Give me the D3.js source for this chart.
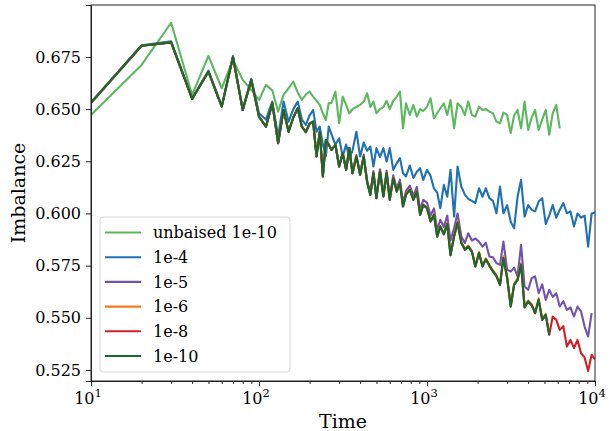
<!DOCTYPE html>
<html>
<head>
<meta charset="utf-8">
<script src="https://cdn.jsdelivr.net/npm/d3@7"></script>
<style>
  body { margin: 0; background: #fff; }
  svg text { font-family: "DejaVu Serif", serif; fill: #000; }
</style>
</head>
<body>
<div id="chart"></div>
<script>
// sample times (shared by all runs, shorter runs stop earlier)
var times = [
    10, 20, 30, 40, 50, 60, 70, 80, 90, 100,
    110, 120, 130, 140, 150, 160, 170, 180, 190, 200,
    210, 220, 230, 240, 250, 260, 270, 285, 300, 315,
    330, 345, 360, 380, 400, 420, 440, 460, 480, 500,
    525, 550, 575, 600, 630, 660, 690, 720, 750, 790,
    830, 870, 910, 950, 1000, 1050, 1100, 1150, 1200, 1260,
    1320, 1380, 1450, 1520, 1600, 1680, 1760, 1850, 1940, 2040,
    2140, 2240, 2350, 2470, 2590, 2720, 2850, 3000, 3150, 3300,
    3460, 3630, 3810, 4000, 4200, 4400, 4620, 4850, 5090, 5340,
    5600, 5880, 6170, 6480, 6800, 7140, 7500, 7870, 8260, 8670,
    9100, 9550, 10000
];

var unbiased10 = [
    0.6472, 0.6712, 0.6914, 0.6568, 0.6755, 0.6600, 0.6736, 0.6640, 0.6592, 0.6544,
    0.6616, 0.6590, 0.6488, 0.6568, 0.6600, 0.6632, 0.6580, 0.6544, 0.6570, 0.6584,
    0.6560, 0.6540, 0.6520, 0.6480, 0.6448, 0.6528, 0.6530, 0.6584, 0.6432, 0.6560,
    0.6520, 0.6480, 0.6500, 0.6510, 0.6520, 0.6536, 0.6576, 0.6510, 0.6536, 0.6480,
    0.6500, 0.6510, 0.6540, 0.6500, 0.6540, 0.6560, 0.6584, 0.6408, 0.6528, 0.6472,
    0.6520, 0.6464, 0.6500, 0.6490, 0.6512, 0.6552, 0.6456, 0.6480, 0.6504, 0.6528,
    0.6472, 0.6544, 0.6408, 0.6528, 0.6510, 0.6472, 0.6536, 0.6472, 0.6464, 0.6512,
    0.6496, 0.6500, 0.6488, 0.6480, 0.6440, 0.6432, 0.6483, 0.6472, 0.6385, 0.6470,
    0.6496, 0.6408, 0.6536, 0.6400, 0.6460, 0.6496, 0.6400, 0.6450, 0.6496, 0.6377,
    0.6480, 0.6520, 0.6408
];

var eps4 = [
    0.6532, 0.6806, 0.6825, 0.6551, 0.6684, 0.6515, 0.6755, 0.6500, 0.6645, 0.6480,
    0.6450, 0.6536, 0.6370, 0.6536, 0.6440, 0.6500, 0.6536, 0.6450, 0.6424, 0.6470,
    0.6496, 0.6392, 0.6416, 0.6330, 0.6273, 0.6416, 0.6380, 0.6329, 0.6360, 0.6273,
    0.6330, 0.6265, 0.6300, 0.6392, 0.6273, 0.6340, 0.6300, 0.6320, 0.6225, 0.6313,
    0.6270, 0.6313, 0.6249, 0.6313, 0.6209, 0.6240, 0.6265, 0.6193, 0.6177, 0.6230,
    0.6170, 0.6200, 0.6217, 0.6161, 0.6209, 0.6180, 0.6120, 0.6100, 0.6025, 0.6137,
    0.6080, 0.6209, 0.5985, 0.6225, 0.6129, 0.6090, 0.6070, 0.6060, 0.6050, 0.6121,
    0.6080, 0.6121, 0.6073, 0.6060, 0.6001, 0.6129, 0.6001, 0.6040, 0.5960, 0.5929,
    0.6080, 0.6161, 0.5985, 0.6040, 0.6017, 0.6010, 0.6057, 0.6073, 0.5950, 0.5990,
    0.6040, 0.5980, 0.6017, 0.6050, 0.6001, 0.6010, 0.5937, 0.6000, 0.5980, 0.5990,
    0.5841, 0.6000, 0.6005
];

var eps5 = [
    0.6530, 0.6804, 0.6820, 0.6549, 0.6680, 0.6512, 0.6750, 0.6496, 0.6640, 0.6464,
    0.6416, 0.6528, 0.6337, 0.6496, 0.6392, 0.6460, 0.6504, 0.6416, 0.6390, 0.6430,
    0.6440, 0.6273, 0.6392, 0.6177, 0.6352, 0.6330, 0.6305, 0.6329, 0.6225, 0.6289,
    0.6209, 0.6313, 0.6193, 0.6280, 0.6192, 0.6282, 0.6160, 0.6098, 0.6203, 0.6083,
    0.6212, 0.6092, 0.6205, 0.6078, 0.6183, 0.6120, 0.6162, 0.6050, 0.6108, 0.6133,
    0.6086, 0.6127, 0.6017, 0.6065, 0.6052, 0.5990, 0.6024, 0.5922, 0.5970, 0.5935,
    0.5990, 0.5870, 0.5930, 0.6000, 0.5891, 0.5858, 0.5905, 0.5870, 0.5880, 0.5865,
    0.5841, 0.5860, 0.5794, 0.5790, 0.5762, 0.5754, 0.5865, 0.5730, 0.5722, 0.5740,
    0.5698, 0.5850, 0.5650, 0.5634, 0.5690, 0.5698, 0.5618, 0.5660, 0.5586, 0.5634,
    0.5600, 0.5618, 0.5554, 0.5580, 0.5538, 0.5550, 0.5506, 0.5554, 0.5530, 0.5458,
    0.5410, 0.5522
];

var eps6 = [
    0.6530, 0.6804, 0.6820, 0.6549, 0.6680, 0.6512, 0.6750, 0.6496, 0.6640, 0.6464,
    0.6416, 0.6528, 0.6337, 0.6496, 0.6392, 0.6460, 0.6504, 0.6416, 0.6390, 0.6430,
    0.6440, 0.6273, 0.6392, 0.6177, 0.6352, 0.6330, 0.6305, 0.6329, 0.6225, 0.6289,
    0.6209, 0.6313, 0.6193, 0.6275, 0.6186, 0.6275, 0.6152, 0.6090, 0.6195, 0.6075,
    0.6204, 0.6083, 0.6196, 0.6067, 0.6172, 0.6107, 0.6148, 0.6035, 0.6093, 0.6117,
    0.6068, 0.6109, 0.5996, 0.6044, 0.6029, 0.5964, 0.5997, 0.5892, 0.5941, 0.5903,
    0.5955, 0.5803, 0.5894, 0.5962, 0.5864, 0.5830, 0.5846, 0.5821, 0.5750, 0.5815,
    0.5750, 0.5785, 0.5754, 0.5727, 0.5704, 0.5662, 0.5795, 0.5698, 0.5558, 0.5663,
    0.5688, 0.5762, 0.5555, 0.5583, 0.5565, 0.5527, 0.5594, 0.5494, 0.5519, 0.5421
];

var eps8 = [
    0.6530, 0.6804, 0.6820, 0.6549, 0.6680, 0.6512, 0.6750, 0.6496, 0.6640, 0.6464,
    0.6416, 0.6528, 0.6337, 0.6496, 0.6392, 0.6460, 0.6504, 0.6416, 0.6390, 0.6430,
    0.6440, 0.6273, 0.6392, 0.6177, 0.6352, 0.6330, 0.6305, 0.6329, 0.6225, 0.6289,
    0.6209, 0.6313, 0.6193, 0.6273, 0.6185, 0.6273, 0.6150, 0.6089, 0.6193, 0.6073,
    0.6201, 0.6081, 0.6193, 0.6065, 0.6169, 0.6105, 0.6145, 0.6033, 0.6090, 0.6113,
    0.6065, 0.6105, 0.5993, 0.6040, 0.6025, 0.5961, 0.5993, 0.5889, 0.5937, 0.5900,
    0.5950, 0.5800, 0.5890, 0.5955, 0.5860, 0.5826, 0.5841, 0.5817, 0.5746, 0.5810,
    0.5746, 0.5780, 0.5750, 0.5722, 0.5700, 0.5658, 0.5786, 0.5690, 0.5554, 0.5658,
    0.5682, 0.5754, 0.5550, 0.5578, 0.5560, 0.5522, 0.5586, 0.5490, 0.5514, 0.5418,
    0.5506, 0.5490, 0.5442, 0.5460, 0.5362, 0.5394, 0.5355, 0.5394, 0.5330, 0.5310,
    0.5245, 0.5323, 0.5300
];

var eps10 = [
    0.6530, 0.6804, 0.6820, 0.6549, 0.6680, 0.6512, 0.6750, 0.6496, 0.6640, 0.6464,
    0.6416, 0.6528, 0.6337, 0.6496, 0.6392, 0.6460, 0.6504, 0.6416, 0.6390, 0.6430,
    0.6440, 0.6273, 0.6392, 0.6177, 0.6352, 0.6330, 0.6305, 0.6329, 0.6225, 0.6289,
    0.6209, 0.6313, 0.6193, 0.6273, 0.6185, 0.6273, 0.6150, 0.6089, 0.6193, 0.6073,
    0.6201, 0.6081, 0.6193, 0.6065, 0.6169, 0.6105, 0.6145, 0.6033, 0.6090, 0.6113,
    0.6065, 0.6105, 0.5993, 0.6040, 0.6025, 0.5961, 0.5993, 0.5889, 0.5937, 0.5900,
    0.5950, 0.5800, 0.5890, 0.5955, 0.5860, 0.5826, 0.5841, 0.5817, 0.5746, 0.5810,
    0.5746, 0.5780, 0.5750, 0.5722, 0.5700, 0.5658, 0.5786, 0.5690, 0.5554, 0.5658,
    0.5682, 0.5754, 0.5550, 0.5578, 0.5560, 0.5522, 0.5586, 0.5490, 0.5514, 0.5418
];

var seriesNames = ["unbaised 1e-10", "1e-4", "1e-5", "1e-6", "1e-8", "1e-10"];
var seriesValues = [unbiased10, eps4, eps5, eps6, eps8, eps10];
var seriesColors = ["#5cb85f", "#1f70b4", "#7153ad", "#f57b1f", "#d01f26", "#176b2c"];

var xTicks = [10, 100, 1000, 10000];
var xTickExp = ["1", "2", "3", "4"];
var yTicks = [0.525, 0.550, 0.575, 0.600, 0.625, 0.650, 0.675];

var width = 610,
    height = 431,
    margin = { top: 5, right: 15, bottom: 50, left: 91 },
    innerWidth = width - margin.left - margin.right,
    innerHeight = height - margin.top - margin.bottom;

var xScale = d3.scaleLog().domain([10, 10000]).range([0, innerWidth]);
var yScale = d3.scaleLinear().domain([0.5197, 0.6999]).range([innerHeight, 0]);

var svg = d3.select("#chart").append("svg")
    .attr("width", width)
    .attr("height", height);

var g = svg.append("g")
    .attr("transform", "translate(" + margin.left + "," + margin.top + ")");

g.append("clipPath").attr("id", "clip")
    .append("rect").attr("width", innerWidth).attr("height", innerHeight);

// lines
var line = d3.line()
    .x(function(d) { return xScale(d[0]); })
    .y(function(d) { return yScale(d[1]); });

var lines = g.append("g").attr("clip-path", "url(#clip)");
seriesValues.forEach(function(vals, i) {
    var pts = vals.map(function(v, j) { return [times[j], v]; });
    lines.append("path")
        .datum(pts)
        .attr("d", line)
        .attr("fill", "none")
        .attr("stroke", seriesColors[i])
        .attr("stroke-width", 2.1)
        .attr("stroke-linejoin", "round");
});

// y axis
var yAxis = g.append("g")
    .call(d3.axisLeft(yScale).tickValues(yTicks).tickFormat(d3.format(".3f")).tickSize(5).tickPadding(5));
yAxis.selectAll("text").style("font-size", "16px");

// x axis: minor ticks
var minor = [];
[10, 100, 1000].forEach(function(b) {
    for (var k = 2; k <= 9; k++) minor.push(b * k);
});
g.append("g")
    .attr("transform", "translate(0," + innerHeight + ")")
    .call(d3.axisBottom(xScale).tickValues(minor).tickFormat("").tickSize(3))
    .select(".domain").remove();

var xAxis = g.append("g")
    .attr("transform", "translate(0," + innerHeight + ")")
    .call(d3.axisBottom(xScale).tickValues(xTicks).tickFormat("").tickSize(5));

var xl = xAxis.selectAll(".xlab")
    .data(xTicks)
    .enter().append("text")
    .attr("class", "xlab")
    .attr("x", function(d) { return xScale(d) - 3; })
    .attr("y", 23)
    .attr("text-anchor", "middle")
    .style("font-size", "16px");
xl.append("tspan").text("10");
xl.append("tspan")
    .attr("dy", -7)
    .style("font-size", "11.5px")
    .text(function(d, i) { return xTickExp[i]; });

g.selectAll(".domain").attr("stroke", "#222");
g.selectAll(".tick line").attr("stroke", "#222");

// frame (top/right spines)
g.append("rect")
    .attr("width", innerWidth)
    .attr("height", innerHeight)
    .attr("fill", "none")
    .attr("stroke", "#222")
    .attr("stroke-width", 1);

// axis labels
svg.append("text")
    .attr("x", margin.left + innerWidth / 2)
    .attr("y", 428)
    .attr("text-anchor", "middle")
    .style("font-size", "19px")
    .text("Time");

svg.append("text")
    .attr("transform", "translate(25," + (margin.top + innerHeight / 2) + ") rotate(-90)")
    .attr("text-anchor", "middle")
    .style("font-size", "19px")
    .text("Imbalance");

// legend
var legend = g.append("g").attr("transform", "translate(9,212)");
legend.append("rect")
    .attr("width", 190)
    .attr("height", 155)
    .attr("rx", 3)
    .attr("fill", "#fff")
    .attr("fill-opacity", 0.8)
    .attr("stroke", "#d5d5d5");

var items = legend.selectAll(".item")
    .data(seriesNames)
    .enter().append("g")
    .attr("transform", function(d, i) { return "translate(0," + (15.5 + i * 24.7) + ")"; });
items.append("line")
    .attr("x1", 5).attr("x2", 41)
    .attr("stroke", function(d, i) { return seriesColors[i]; })
    .attr("stroke-width", 2.1);
items.append("text")
    .attr("x", 53)
    .attr("dy", "0.35em")
    .style("font-size", "16px")
    .text(function(d) { return d; });
</script>
</body>
</html>
